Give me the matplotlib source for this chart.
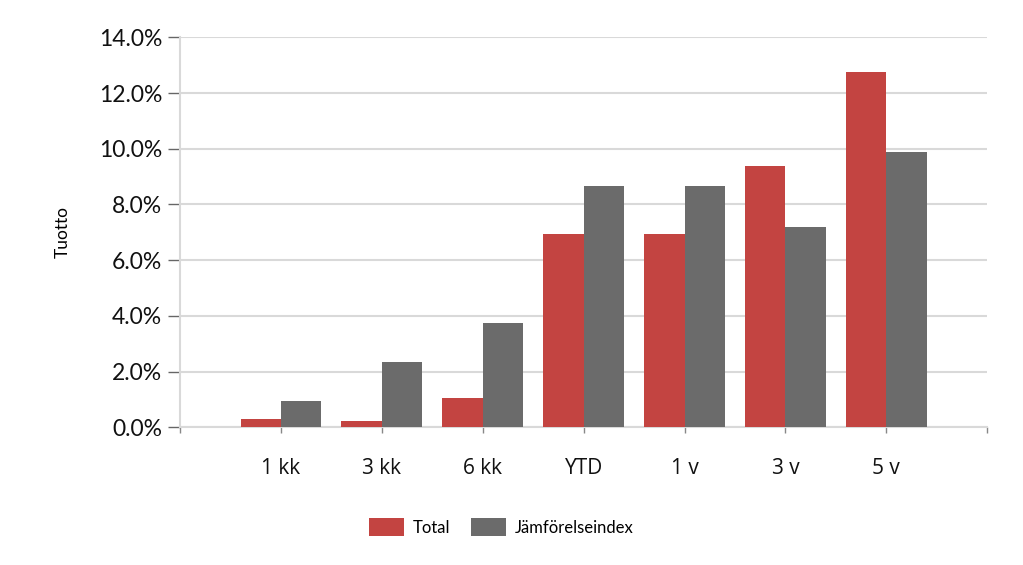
import numpy as np
import matplotlib.pyplot as plt
from matplotlib.ticker import FuncFormatter

categories = ["1 kk", "3 kk", "6 kk", "YTD", "1 v", "3 v", "5 v"]
total = [0.29, 0.23, 1.06, 6.93, 6.93, 9.39, 12.75]
index = [0.93, 2.34, 3.75, 8.65, 8.65, 7.19, 9.88]
series_names = ["Total", "Jämförelseindex"]

RED = "#c34441"
GREY = "#6b6b6b"
GRID = "#d9d9d9"

plt.rcParams["font.family"] = ["Lato", "DejaVu Sans"]

fig = plt.figure(figsize=(10.23, 5.65), dpi=100)
ax = fig.add_axes([0.176, 0.2437, 0.789, 0.6903])

x = np.arange(len(categories))
w = 0.4
ax.bar(x - w/2, total, w, color=RED, label=series_names[0], zorder=3)
ax.bar(x + w/2, index, w, color=GREY, label=series_names[1], zorder=3)

ax.set_xlim(-1, len(categories))
ax.set_ylim(0, 14)
ax.set_yticks(np.arange(0, 15, 2))
ax.yaxis.set_major_formatter(FuncFormatter(lambda v, p: f"{v:.1f}%"))
ax.set_xticks(np.arange(-1, len(categories) + 1))
ax.set_xticklabels([""] + categories + [""])

ax.grid(axis="y", color=GRID, linewidth=1.5, zorder=0)
for s in ["top", "right"]:
    ax.spines[s].set_visible(False)
ax.spines["left"].set_color(GRID)
ax.spines["left"].set_linewidth(1.5)
ax.spines["bottom"].set_color(GRID)
ax.spines["bottom"].set_linewidth(1.5)

ax.tick_params(axis="y", length=9, width=1, color="#666666", labelsize=16.5, pad=4,
               labelcolor="#111111")
ax.tick_params(axis="x", length=4, width=1, color="#888888", labelsize=15, pad=18,
               labelcolor="#111111")
for lab in ax.get_xticklabels():
    lab.set_family(["Open Sans", "DejaVu Sans"])

ax.set_ylabel("Tuotto", fontsize=12.5, labelpad=20)

fig.legend(loc="center", bbox_to_anchor=(0.49, 0.067), ncol=2, frameon=False,
           fontsize=12, handlelength=2.1, handleheight=1.3, columnspacing=1.3,
           handletextpad=0.5)

fig.savefig("out.png", dpi=100)
